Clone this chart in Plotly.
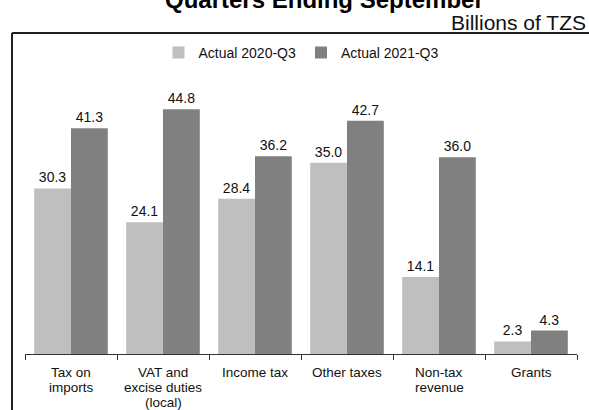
import plotly.graph_objects as go

# ---- data ----
categories = ["Tax on imports", "VAT and excise duties (local)", "Income tax",
              "Other taxes", "Non-tax revenue", "Grants"]
tick_labels = ["Tax on<br>imports", "VAT and<br>excise duties<br>(local)", "Income tax",
               "Other taxes", "Non-tax<br>revenue", "Grants"]
series_names = ["Actual 2020-Q3", "Actual 2021-Q3"]
actual_2020 = [30.3, 24.1, 28.4, 35.0, 14.1, 2.3]
actual_2021 = [41.3, 44.8, 36.2, 42.7, 36.0, 4.3]
title_text = "Quarters Ending September"
unit_text = "Billions of TZS"

# ---- styling / geometry ----
FONT = "Arial, Liberation Sans, sans-serif"
W, H = 589, 410
ML, MR, MT, MB = 25, 12, 80, 56
PH = H - MT - MB
YMAX = 50.14
colors = ["#bfbfbf", "#808080"]

def py(pix_y):
    """pixel y (from top) -> paper y"""
    return (H - MB - pix_y) / PH

def px(pix_x):
    return (pix_x - ML) / (W - ML - MR)

fig = go.Figure()
for name, vals, col in zip(series_names, [actual_2020, actual_2021], colors):
    fig.add_trace(go.Bar(
        x=categories, y=vals, name=name,
        marker=dict(color=col, line=dict(width=0)),
        texttemplate="%{y:.1f}", textposition="outside",
        textfont=dict(family=FONT, size=14, color="#111111"),
        constraintext="none", cliponaxis=False,
    ))

annotations = []
# multi-line category labels, tight line spacing
for cat, lab in zip(categories, tick_labels):
    for i, line in enumerate(lab.split("<br>")):
        annotations.append(dict(
            x=cat, xref="x", y=0, yref="y", text=line, showarrow=False,
            xanchor="center", yanchor="middle", yshift=-(18.0 + 15.2 * i),
            font=dict(family=FONT, size=13.5, color="#111111"),
        ))

# title (cut off at top, as in the source) and unit
annotations.append(dict(
    x=px(324), xref="paper", y=py(-0.8), yref="paper", text="<b>" + title_text + "</b>",
    showarrow=False, xanchor="center", yanchor="middle",
    font=dict(family=FONT, size=24, color="#000000"),
))
annotations.append(dict(
    x=px(588), xref="paper", y=py(22.7), yref="paper", text=unit_text,
    showarrow=False, xanchor="right", yanchor="middle",
    font=dict(family=FONT, size=21, color="#111111"),
))

# frame (left and top lines)
shapes = [
    dict(type="line", xref="paper", yref="paper", x0=px(12), x1=px(600),
         y0=py(33), y1=py(33), line=dict(color="#231f20", width=2)),
    dict(type="line", xref="paper", yref="paper", x0=px(12), x1=px(12),
         y0=py(33), y1=py(420), line=dict(color="#231f20", width=2)),
]

fig.update_layout(
    width=W, height=H,
    margin=dict(l=ML, r=MR, t=MT, b=MB),
    paper_bgcolor="white", plot_bgcolor="white",
    barmode="group", bargap=0.2, bargroupgap=0,
    font=dict(family=FONT, size=14, color="#111111"),
    showlegend=True,
    legend=dict(orientation="h", x=0.5, xanchor="center", y=py(53), yanchor="middle",
                font=dict(family=FONT, size=14, color="#111111"),
                itemwidth=30, bgcolor="rgba(0,0,0,0)"),
    xaxis=dict(showticklabels=False, showline=True, linecolor="#333333", linewidth=1.3,
               ticks="outside", tickson="boundaries", ticklen=5, tickcolor="#333333",
               tickwidth=1, showgrid=False, zeroline=False, range=[-0.5, 5.5]),
    yaxis=dict(visible=False, range=[0, YMAX], showgrid=False, zeroline=False),
    annotations=annotations, shapes=shapes,
)

fig.write_html("out.html")
